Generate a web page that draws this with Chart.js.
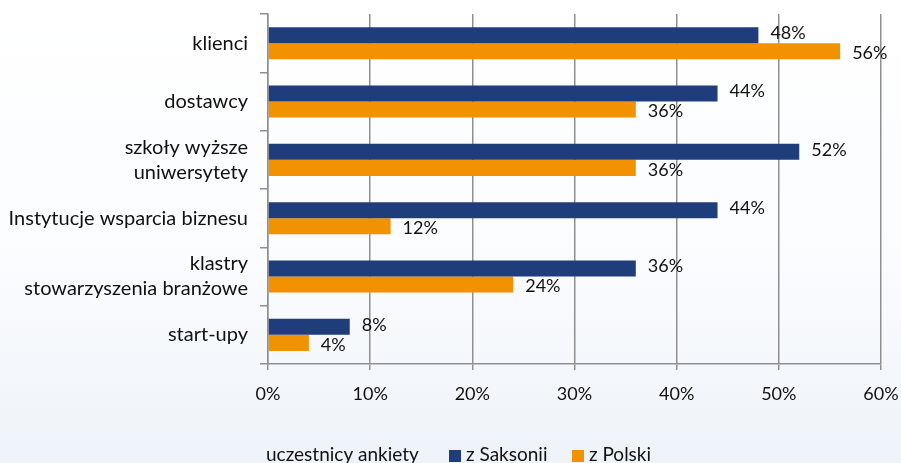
<!DOCTYPE html>
<html>
<head>
<meta charset="utf-8">
<script src="https://cdn.jsdelivr.net/npm/chart.js"></script>
<style>
	html, body {
		margin: 0;
		padding: 0;
		width: 901px;
		height: 463px;
		overflow: hidden;
		background: linear-gradient(to bottom, #ffffff 0%, #fbfcfe 55%, #eef3f9 100%);
	}
	#wrap {
		position: relative;
		width: 901px;
		height: 463px;
	}
</style>
</head>
<body>
<div id="wrap"><canvas id="chart" width="901" height="463"></canvas></div>
<script>
// dane z wykresu
const categories = [
	'klienci',
	'dostawcy',
	['szkoły wyższe', 'uniwersytety'],
	'Instytucje wsparcia biznesu',
	['klastry', 'stowarzyszenia branżowe'],
	'start-upy'
];
const saksonia = [48, 44, 52, 44, 36, 8];
const polska = [56, 36, 36, 12, 24, 4];
const seriesNames = ['z Saksonii', 'z Polski'];
const legendTitle = 'uczestnicy ankiety';
const xTicks = [0, 10, 20, 30, 40, 50, 60];

const blue = '#1f3c7b';
const orange = '#f39200';
const gridColor = '#8f8f8f';
const font = 'Lato, "Open Sans", sans-serif';

// Etykiety wartości na końcu słupków
const valueLabels = {
	id: 'valueLabels',
	afterDatasetsDraw(chart) {
		const ctx = chart.ctx;
		ctx.save();
		ctx.font = '18px ' + font;
		ctx.fillStyle = '#111';
		ctx.textAlign = 'left';
		ctx.textBaseline = 'middle';
		chart.data.datasets.forEach((ds, i) => {
			const meta = chart.getDatasetMeta(i);
			meta.data.forEach((bar, j) => {
				const dy = i === 0 ? -2 : 2;
				ctx.fillText(ds.data[j] + '%', bar.x + 12, bar.y + dy);
			});
		});
		ctx.restore();
	}
};

// Legenda na dole z tytułem po lewej
const legendBoxX = [449, 572];
const bottomLegend = {
	id: 'bottomLegend',
	afterDraw(chart) {
		const ctx = chart.ctx;
		const base = 461;
		ctx.save();
		ctx.font = '19px ' + font;
		ctx.fillStyle = '#111';
		ctx.textBaseline = 'alphabetic';
		ctx.textAlign = 'left';
		ctx.fillText(legendTitle, 266, base);
		chart.data.datasets.forEach((ds, i) => {
			const x = legendBoxX[i];
			ctx.fillStyle = ds.backgroundColor;
			ctx.fillRect(x, 450, 12, 12);
			ctx.fillStyle = '#111';
			ctx.fillText(ds.label, x + 17, base);
		});
		ctx.restore();
	}
};

const ctx = document.getElementById('chart').getContext('2d');
new Chart(ctx, {
	type: 'bar',
	data: {
		labels: categories,
		datasets: [{
			label: seriesNames[0],
			data: saksonia,
			backgroundColor: blue,
			categoryPercentage: 0.55,
			barPercentage: 1.0
		}, {
			label: seriesNames[1],
			data: polska,
			backgroundColor: orange,
			categoryPercentage: 0.55,
			barPercentage: 1.0
		}]
	},
	options: {
		indexAxis: 'y',
		responsive: false,
		animation: false,
		devicePixelRatio: 1,
		layout: {
			padding: { top: 14, right: 20, bottom: 59, left: 0 }
		},
		scales: {
			x: {
				min: 0,
				max: 60,
				afterBuildTicks(scale) {
					scale.ticks = xTicks.map(v => ({ value: v }));
				},
				afterFit(scale) {
					scale.height = 40;
					scale.paddingLeft = 0;
					scale.paddingRight = 0;
				},
				ticks: {
					callback: v => v + '%',
					color: '#111',
					font: { family: font, size: 18 },
					padding: 13,
					maxRotation: 0
				},
				grid: {
					color: gridColor,
					lineWidth: 1.5,
					tickLength: 6
				},
				border: { color: gridColor, width: 1.5 }
			},
			y: {
				afterFit(scale) {
					scale.width = 268;
					scale.paddingTop = 0;
					scale.paddingBottom = 0;
				},
				ticks: {
					color: '#111',
					font: { family: font, size: 20, lineHeight: 1.25 },
					padding: 12
				},
				grid: {
					drawOnChartArea: false,
					color: gridColor,
					lineWidth: 1.5,
					tickLength: 8
				},
				border: { color: gridColor, width: 1.5 }
			}
		},
		plugins: {
			legend: { display: false },
			tooltip: { enabled: false }
		}
	},
	plugins: [valueLabels, bottomLegend]
});
</script>
</body>
</html>
